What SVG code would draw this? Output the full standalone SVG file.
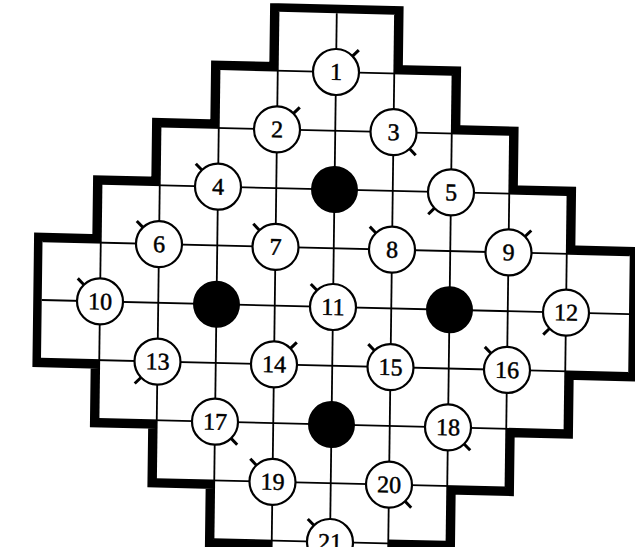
<svg xmlns="http://www.w3.org/2000/svg" width="635" height="547" viewBox="0 0 635 547">
<style>
.grid{stroke:#000;stroke-width:1.8;fill:none}
.node circle{fill:#fff;stroke:#000;stroke-width:2.2}
.node text{font-family:"Liberation Serif","Times New Roman",serif;font-size:24px;fill:#000;stroke:#000;stroke-width:0.5;text-anchor:middle}
.tick{stroke:#000;stroke-width:3;fill:none}
.hole circle{fill:#000;stroke:none}
</style>
<defs>
<path id="outline" d="M-58.25,-293.75 L58.25,-293.75 L58.25,-235 L116.5,-235 L116.5,-176.25 L174.75,-176.25 L174.75,-117.5 L233,-117.5 L233,-58.75 L296,-58.75 L296,58.75 L233,58.75 L233,117.5 L174.75,117.5 L174.75,176.25 L116.5,176.25 L116.5,231 L58.25,231 L58.25,293.75 L-58.25,293.75 L-58.25,235 L-116.5,235 L-116.5,176.25 L-174.75,176.25 L-174.75,117.5 L-233,117.5 L-233,58.75 L-291.25,58.75 L-291.25,-58.75 L-233,-58.75 L-233,-117.5 L-174.75,-117.5 L-174.75,-176.25 L-116.5,-176.25 L-116.5,-235 L-58.25,-235 Z"/>
</defs>
<rect x="0" y="0" width="635" height="547" fill="#fff"/>
<g transform="matrix(1 0.024 -0.0128 1 333 307)">
<g id="border">
<use href="#outline" fill="none" stroke="#000" stroke-width="17" stroke-linejoin="miter"/>
<use href="#outline" fill="#fff" stroke="none"/>
</g>
<g id="connectors" class="grid">
<line x1="-116.5" y1="-235" x2="116.5" y2="-235"/>
<line x1="-174.75" y1="-176.25" x2="174.75" y2="-176.25"/>
<line x1="-233" y1="-117.5" x2="233" y2="-117.5"/>
<line x1="-291.25" y1="-58.75" x2="296" y2="-58.75"/>
<line x1="-291.25" y1="0" x2="296" y2="0"/>
<line x1="-291.25" y1="58.75" x2="296" y2="58.75"/>
<line x1="-233" y1="117.5" x2="233" y2="117.5"/>
<line x1="-174.75" y1="176.25" x2="174.75" y2="176.25"/>
<line x1="-116.5" y1="235" x2="116.5" y2="235"/>
<line x1="0" y1="-293.75" x2="0" y2="293.75"/>
<line x1="-58.25" y1="-293.75" x2="-58.25" y2="293.75"/>
<line x1="58.25" y1="-293.75" x2="58.25" y2="293.75"/>
<line x1="-116.5" y1="-235" x2="-116.5" y2="235"/>
<line x1="116.5" y1="-235" x2="116.5" y2="235"/>
<line x1="-174.75" y1="-176.25" x2="-174.75" y2="176.25"/>
<line x1="174.75" y1="-176.25" x2="174.75" y2="176.25"/>
<line x1="-233" y1="-117.5" x2="-233" y2="117.5"/>
<line x1="233" y1="-117.5" x2="233" y2="117.5"/>
</g>
<g id="hole1" class="hole"><circle cx="0" cy="-117.5" r="23.5"/></g>
<g id="hole2" class="hole"><circle cx="-116.5" cy="0" r="23.5"/></g>
<g id="hole3" class="hole"><circle cx="116.5" cy="0" r="23.5"/></g>
<g id="hole4" class="hole"><circle cx="0" cy="117.5" r="23.5"/></g>
<g id="n1" class="node" transform="translate(0,-235)"><line class="tick" x1="16.3" y1="-16.3" x2="22.5" y2="-22.5"/><circle r="23"/><text y="8">1</text></g>
<g id="n2" class="node" transform="translate(-58.25,-176.25)"><line class="tick" x1="16.3" y1="-16.3" x2="22.5" y2="-22.5"/><circle r="23"/><text y="8">2</text></g>
<g id="n3" class="node" transform="translate(58.25,-176.25)"><line class="tick" x1="16.3" y1="16.3" x2="22.5" y2="22.5"/><circle r="23"/><text y="8">3</text></g>
<g id="n4" class="node" transform="translate(-116.5,-117.5)"><line class="tick" x1="-16.3" y1="-16.3" x2="-22.5" y2="-22.5"/><circle r="23"/><text y="8">4</text></g>
<g id="n5" class="node" transform="translate(116.5,-117.5)"><line class="tick" x1="-16.3" y1="16.3" x2="-22.5" y2="22.5"/><circle r="23"/><text y="8">5</text></g>
<g id="n6" class="node" transform="translate(-174.75,-58.75)"><line class="tick" x1="-16.3" y1="-16.3" x2="-22.5" y2="-22.5"/><circle r="23"/><text y="8">6</text></g>
<g id="n7" class="node" transform="translate(-58.25,-58.75)"><line class="tick" x1="-16.3" y1="-16.3" x2="-22.5" y2="-22.5"/><circle r="23"/><text y="8">7</text></g>
<g id="n8" class="node" transform="translate(58.25,-58.75)"><line class="tick" x1="-16.3" y1="-16.3" x2="-22.5" y2="-22.5"/><circle r="23"/><text y="8">8</text></g>
<g id="n9" class="node" transform="translate(174.75,-58.75)"><line class="tick" x1="16.3" y1="-16.3" x2="22.5" y2="-22.5"/><circle r="23"/><text y="8">9</text></g>
<g id="n10" class="node" transform="translate(-233,0)"><line class="tick" x1="-16.3" y1="-16.3" x2="-22.5" y2="-22.5"/><circle r="23"/><text y="8">10</text></g>
<g id="n11" class="node" transform="translate(0,0)"><line class="tick" x1="-16.3" y1="-16.3" x2="-22.5" y2="-22.5"/><circle r="23"/><text y="8">11</text></g>
<g id="n12" class="node" transform="translate(233,0)"><line class="tick" x1="-16.3" y1="16.3" x2="-22.5" y2="22.5"/><circle r="23"/><text y="8">12</text></g>
<g id="n13" class="node" transform="translate(-174.75,58.75)"><line class="tick" x1="-16.3" y1="16.3" x2="-22.5" y2="22.5"/><circle r="23"/><text y="8">13</text></g>
<g id="n14" class="node" transform="translate(-58.25,58.75)"><line class="tick" x1="16.3" y1="-16.3" x2="22.5" y2="-22.5"/><circle r="23"/><text y="8">14</text></g>
<g id="n15" class="node" transform="translate(58.25,58.75)"><line class="tick" x1="-16.3" y1="-16.3" x2="-22.5" y2="-22.5"/><circle r="23"/><text y="8">15</text></g>
<g id="n16" class="node" transform="translate(174.75,58.75)"><line class="tick" x1="-16.3" y1="-16.3" x2="-22.5" y2="-22.5"/><circle r="23"/><text y="8">16</text></g>
<g id="n17" class="node" transform="translate(-116.5,117.5)"><line class="tick" x1="16.3" y1="16.3" x2="22.5" y2="22.5"/><circle r="23"/><text y="8">17</text></g>
<g id="n18" class="node" transform="translate(116.5,117.5)"><line class="tick" x1="16.3" y1="16.3" x2="22.5" y2="22.5"/><circle r="23"/><text y="8">18</text></g>
<g id="n19" class="node" transform="translate(-58.25,176.25)"><line class="tick" x1="-16.3" y1="-16.3" x2="-22.5" y2="-22.5"/><circle r="23"/><text y="8">19</text></g>
<g id="n20" class="node" transform="translate(58.25,176.25)"><line class="tick" x1="16.3" y1="16.3" x2="22.5" y2="22.5"/><circle r="23"/><text y="8">20</text></g>
<g id="n21" class="node" transform="translate(0,235)"><line class="tick" x1="-16.3" y1="-16.3" x2="-22.5" y2="-22.5"/><circle r="23"/><text y="8">21</text></g>
</g>
</svg>
